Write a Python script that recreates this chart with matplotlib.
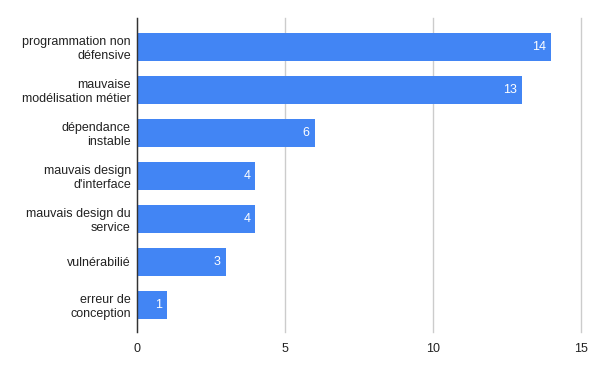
import matplotlib
matplotlib.use("Agg")
import matplotlib.pyplot as plt

categories = ["programmation non\ndéfensive", "mauvaise\nmodélisation métier", "dépendance\ninstable",
              "mauvais design\nd'interface", "mauvais design du\nservice", "vulnérabilié", "erreur de\nconception"]
values = [14, 13, 6, 4, 4, 3, 1]
xticks = [0, 5, 10, 15]

plt.rcParams['font.family'] = ['Liberation Sans', 'DejaVu Sans']
fig = plt.figure(figsize=(6, 3.71), dpi=100)
ax = fig.add_axes([137/600, 1-332/371, 444/600, 314/371])
pos = list(range(len(categories)))
ax.barh(pos, values, height=0.65, color="#4285F4", zorder=3)
for p, v in zip(pos, values):
    ax.text(v - 0.17, p, str(v), color="white", ha="right", va="center", fontsize=9, zorder=4)
ax.set_ylim(6.63, -0.674)
ax.set_xlim(0, 15)
ax.set_xticks(xticks)
ax.set_yticks(pos)
ax.set_yticklabels(categories, fontsize=9, color="#222222", linespacing=1.15)
ax.tick_params(axis='x', labelsize=9, colors="#222222", length=0, pad=8)
ax.tick_params(axis='y', length=0, pad=4.5)
ax.grid(axis='x', color="#cccccc", linewidth=1, zorder=0)
for gl in ax.get_xgridlines():
    gl.set_clip_on(False)
for s in ["top", "right", "bottom"]:
    ax.spines[s].set_visible(False)
ax.spines["left"].set_color("#333333")
ax.spines["left"].set_linewidth(1)
ax.spines["left"].set_zorder(5)
fig.savefig("out.png", dpi=100)
